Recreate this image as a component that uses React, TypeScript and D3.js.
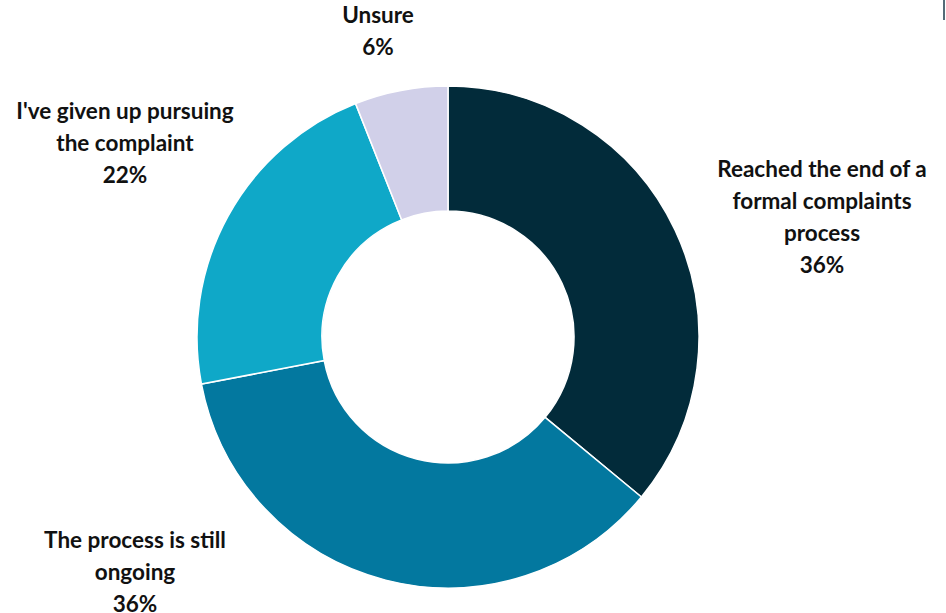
import React from "react";
import * as d3 from "d3";

const categories = [
  "Reached the end of a formal complaints process",
  "The process is still ongoing",
  "I've given up pursuing the complaint",
  "Unsure",
];
const values = [36, 36, 22, 6];
const labelLines = [
  ["Reached the end of a", "formal complaints", "process"],
  ["The process is still", "ongoing"],
  ["I've given up pursuing", "the complaint"],
  ["Unsure"],
];
const colors = ["#022b3a", "#03789f", "#0fa8c8", "#d1d0e9"];

// layout (label block centres, in px)
const labelAnchors: [number, number][] = [
  [822, 217],
  [135, 572],
  [125, 143],
  [378, 31],
];

const W = 946;
const H = 613;
const cx = 448;
const cy = 337;
const R = 251;
const r = 126;
const lineH = 32;

export default function App() {
  const data = categories.map((c, i) => ({ c, v: values[i], i }));
  const pie = d3
    .pie<{ c: string; v: number; i: number }>()
    .value((d) => d.v)
    .sort(null);
  const arcs = pie(data);
  const arc = d3
    .arc<d3.PieArcDatum<{ c: string; v: number; i: number }>>()
    .innerRadius(r)
    .outerRadius(R);

  return (
    <svg
      width={W}
      height={H}
      style={{ position: "absolute", left: 0, top: 0, display: "block" }}
    >
      <rect width={W} height={H} fill="#ffffff" />
      <g transform={`translate(${cx},${cy})`}>
        {arcs.map((a, i) => (
          <path
            key={i}
            d={arc(a) || ""}
            fill={colors[i]}
            stroke="#ffffff"
            strokeWidth={1.5}
          />
        ))}
      </g>
      {arcs.map((a, i) => {
        const lines = [...labelLines[i], `${values[i]}%`];
        const [lx, ly] = labelAnchors[i];
        const top = ly - ((lines.length - 1) * lineH) / 2;
        return (
          <text
            key={i}
            textAnchor="middle"
            fontFamily="Lato, 'Open Sans', sans-serif"
            fontWeight={700}
            fontSize={22.5}
            fill="#111111"
          >
            {lines.map((ln, j) => (
              <tspan key={j} x={lx} y={top + j * lineH} dy="0.35em">
                {ln}
              </tspan>
            ))}
          </text>
        );
      })}
      <line x1={944} y1={0} x2={944} y2={20} stroke="#1d3a4a" strokeWidth={1.5} />
    </svg>
  );
}
